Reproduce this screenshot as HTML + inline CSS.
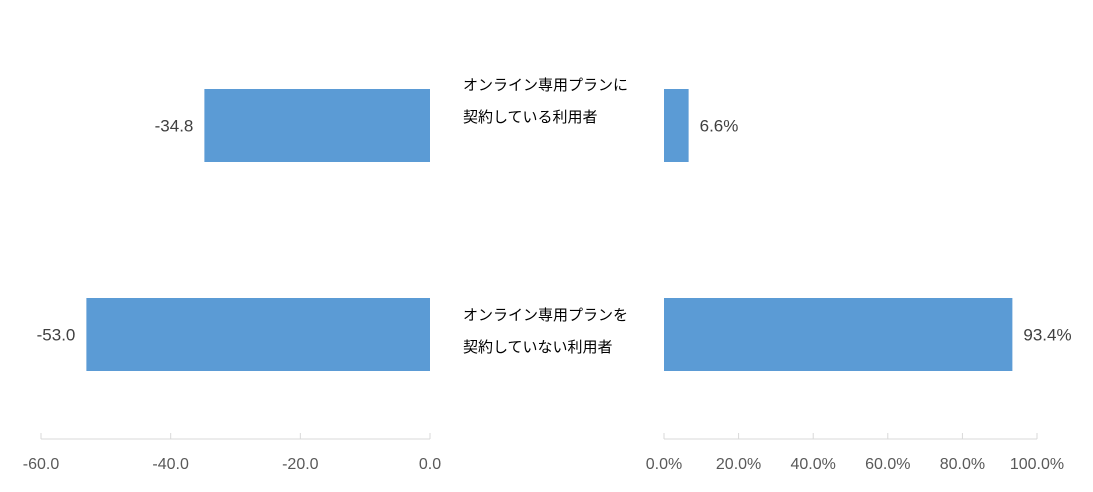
<!DOCTYPE html>
<html><head><meta charset="utf-8">
<style>
html,body{margin:0;padding:0;background:#fff;}
svg{display:block;font-family:"Liberation Sans","Noto Sans CJK JP",sans-serif;}
</style></head>
<body>
<svg id="chart" width="1093" height="492" xmlns="http://www.w3.org/2000/svg"></svg>
<script>
const categories = ["オンライン専用プランに|契約している利用者", "オンライン専用プランを|契約していない利用者"];
const leftValues = [-34.8, -53.0];
const rightValues = [6.6, 93.4];
const leftTicks = [-60, -40, -20, 0];
const rightTicks = [0, 20, 40, 60, 80, 100];

const NS = "http://www.w3.org/2000/svg";
const svg = document.getElementById("chart");
function mk(tag, attrs, parent){
  const e = document.createElementNS(NS, tag);
  for (const k in attrs) e.setAttribute(k, attrs[k]);
  (parent||svg).appendChild(e);
  return e;
}
const lx = v => 430 + (v / 60) * 389;
const rx = v => 664 + (v / 100) * 373;
const rowY = [89, 298];
const barH = 73;
const axisY = 439;

// left axis
const la = mk("line", {x1: lx(-60), x2: lx(0), y1: axisY, y2: axisY, stroke: "#d9d9d9", "stroke-width": 1});


leftTicks.forEach(t => {
  const tk = mk("line", {x1: lx(t), x2: lx(t), y1: axisY - 6, y2: axisY, stroke: "#d9d9d9"});
  
  
  const tl = mk("text", {x: lx(t), y: 469, "text-anchor": "middle", "font-size": 16, fill: "#595959"});
  tl.textContent = t.toFixed(1);
  
  
});
// right axis
const ra = mk("line", {x1: rx(0), x2: rx(100), y1: axisY, y2: axisY, stroke: "#d9d9d9", "stroke-width": 1});


rightTicks.forEach(t => {
  const tk = mk("line", {x1: rx(t), x2: rx(t), y1: axisY - 6, y2: axisY, stroke: "#d9d9d9"});
  
  
  const tl = mk("text", {x: rx(t), y: 469, "text-anchor": "middle", "font-size": 16, fill: "#595959"});
  tl.textContent = t.toFixed(1) + "%";
  
  
});

categories.forEach((c, i) => {
  const y = rowY[i];
  const lv = leftValues[i];
  const b1 = mk("rect", {x: lx(lv), y: y, width: lx(0) - lx(lv), height: barH, fill: "#5b9bd5"});
  
  
  const t1 = mk("text", {x: lx(lv) - 11, y: y + barH / 2 + 6, "text-anchor": "end", "font-size": 17, fill: "#404040"});
  t1.textContent = lv.toFixed(1);
  
  

  const rv = rightValues[i];
  const b2 = mk("rect", {x: rx(0), y: y, width: rx(rv) - rx(0), height: barH, fill: "#5b9bd5"});
  
  
  const t2 = mk("text", {x: rx(rv) + 11, y: y + barH / 2 + 6, "text-anchor": "start", "font-size": 17, fill: "#404040"});
  t2.textContent = rv.toFixed(1) + "%";
  
  

  const lines = c.split("|");
  const baseY = i === 0 ? 90 : 320;
  lines.forEach((ln, j) => {
    const ct = mk("text", {x: 463, y: baseY + j * 32, "font-size": 15, fill: "#000"});
    ct.textContent = ln;
    
    
  });
});
</script>
</body></html>
